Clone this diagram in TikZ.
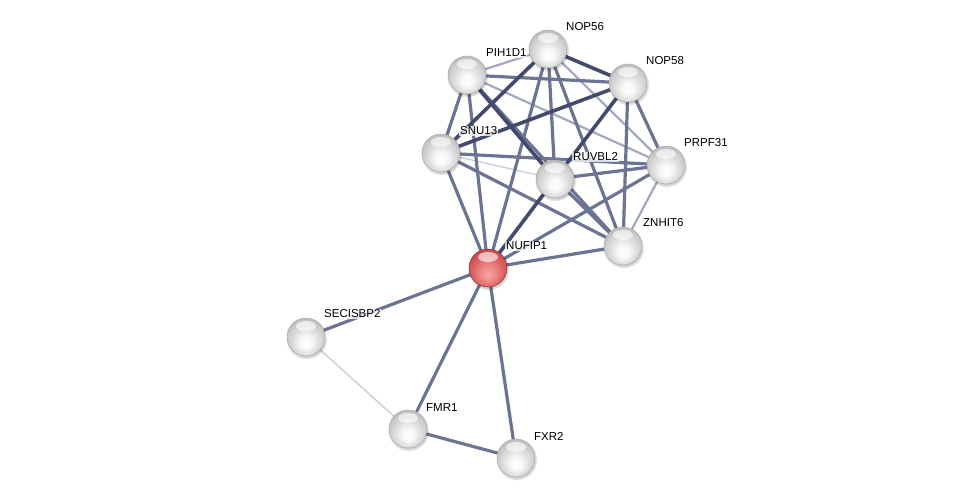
\documentclass[tikz,border=0pt]{standalone}
\usepackage{fontspec}
\setmainfont{Liberation Sans}
\usetikzlibrary{backgrounds,shadows}
\definecolor{edark}{RGB}{66,74,110}
\definecolor{emed}{RGB}{108,116,148}
\definecolor{elight}{RGB}{162,168,192}
\definecolor{evlight}{RGB}{200,203,216}
\pgfdeclareradialshading{graysphere}{\pgfpoint{0bp}{-9bp}}{%
  color(0bp)=(white); color(8bp)=(white!97!black); color(16bp)=(white!88!black);
  color(24bp)=(white!80!black); color(30bp)=(white!72!black); color(34bp)=(white!62!black);
  color(50bp)=(white!62!black)}
\pgfdeclareradialshading{redsphere}{\pgfpoint{0bp}{-9bp}}{%
  color(0bp)=(rgb,255:red,248;green,165;blue,165); color(10bp)=(rgb,255:red,238;green,135;blue,135);
  color(20bp)=(rgb,255:red,220;green,100;blue,100);
  color(28bp)=(rgb,255:red,200;green,75;blue,78); color(34bp)=(rgb,255:red,160;green,45;blue,48);
  color(50bp)=(rgb,255:red,160;green,45;blue,48)}
\tikzset{
  hilite/.style={path picture={
     \fill[white, opacity=0.6] ([yshift=11pt]path picture bounding box.center) ellipse (10pt and 5pt);}},
  prot/.style={circle, minimum size=38pt, inner sep=0pt, draw=gray!65, line width=0.5pt,
    shading=graysphere, hilite,
    circular drop shadow={shadow xshift=0.5pt, shadow yshift=-1.5pt, opacity=0.2, fill=black}},
  query/.style={prot, shading=redsphere, draw={rgb,255:red,150;green,45;blue,48}},
  lab/.style={anchor=west, font=\fontsize{11.5}{13}\selectfont, inner sep=1pt,
    fill=white, fill opacity=0.75, text opacity=1},
  edk/.style={draw=edark, line width=3.6pt},
  emd/.style={draw=emed, line width=3.2pt},
  elt/.style={draw=elight, line width=2.2pt},
  evl/.style={draw=evlight, line width=1.3pt},
}
\begin{document}
\begin{tikzpicture}[x=1pt,y=-1pt]
\useasboundingbox (0,0) rectangle (976,503);
% nodes
\node[prot] (NOP56) at (548,49) {};
\node[prot] (PIH1D1) at (467,75) {};
\node[prot] (NOP58) at (628,83) {};
\node[prot] (SNU13) at (441,153) {};
\node[prot] (RUVBL2) at (555,179) {};
\node[prot] (PRPF31) at (666,165) {};
\node[prot] (ZNHIT6) at (623,246) {};
\node[query] (NUFIP1) at (488,268) {};
\node[prot] (SECISBP2) at (306,337) {};
\node[prot] (FMR1) at (408,429) {};
\node[prot] (FXR2) at (516,458) {};
% edges
\begin{scope}[on background layer]
\draw[evl] (SNU13.center) -- (RUVBL2.center);
\draw[evl] (SECISBP2.center) -- (FMR1.center);
\draw[elt] (NOP56.center) -- (PIH1D1.center);
\draw[elt] (NOP56.center) -- (PRPF31.center);
\draw[elt] (PIH1D1.center) -- (PRPF31.center);
\draw[elt] (PRPF31.center) -- (ZNHIT6.center);
\draw[emd] (NOP56.center) -- (NUFIP1.center);
\draw[emd] (NOP56.center) -- (RUVBL2.center);
\draw[emd] (NOP56.center) -- (ZNHIT6.center);
\draw[emd] (PIH1D1.center) -- (NOP58.center);
\draw[emd] (PIH1D1.center) -- (SNU13.center);
\draw[emd] (PIH1D1.center) -- (NUFIP1.center);
\draw[emd] (PIH1D1.center) -- (ZNHIT6.center);
\draw[emd] (NOP58.center) -- (PRPF31.center);
\draw[emd] (NOP58.center) -- (ZNHIT6.center);
\draw[emd] (SNU13.center) -- (PRPF31.center);
\draw[emd] (SNU13.center) -- (ZNHIT6.center);
\draw[emd] (SNU13.center) -- (NUFIP1.center);
\draw[emd] (RUVBL2.center) -- (PRPF31.center);
\draw[emd] (RUVBL2.center) -- (ZNHIT6.center);
\draw[emd] (PRPF31.center) -- (NUFIP1.center);
\draw[emd] (ZNHIT6.center) -- (NUFIP1.center);
\draw[emd] (NUFIP1.center) -- (SECISBP2.center);
\draw[emd] (NUFIP1.center) -- (FMR1.center);
\draw[emd] (NUFIP1.center) -- (FXR2.center);
\draw[emd] (FMR1.center) -- (FXR2.center);
\draw[edk] (NOP56.center) -- (NOP58.center);
\draw[edk] (NOP56.center) -- (SNU13.center);
\draw[edk] (PIH1D1.center) -- (RUVBL2.center);
\draw[edk] (NOP58.center) -- (SNU13.center);
\draw[edk] (NOP58.center) -- (RUVBL2.center);
\draw[edk] (RUVBL2.center) -- (NUFIP1.center);
\end{scope}
% labels
\node[lab] (lNOP56) at (565,27) {NOP56};
\node[lab] (lPIH1D1) at (485,53) {PIH1D1};
\node[lab] (lNOP58) at (645,61) {NOP58};
\node[lab] (lSNU13) at (459,131) {SNU13};
\node[lab] (lRUVBL2) at (572,157) {RUVBL2};
\node[lab] (lPRPF31) at (683,143) {PRPF31};
\node[lab] (lZNHIT6) at (642,223) {ZNHIT6};
\node[lab] (lNUFIP1) at (505,246) {NUFIP1};
\node[lab] (lSECISBP2) at (323,314) {SECISBP2};
\node[lab] (lFMR1) at (425,408) {FMR1};
\node[lab] (lFXR2) at (533,436) {FXR2};
\end{tikzpicture}
\end{document}
